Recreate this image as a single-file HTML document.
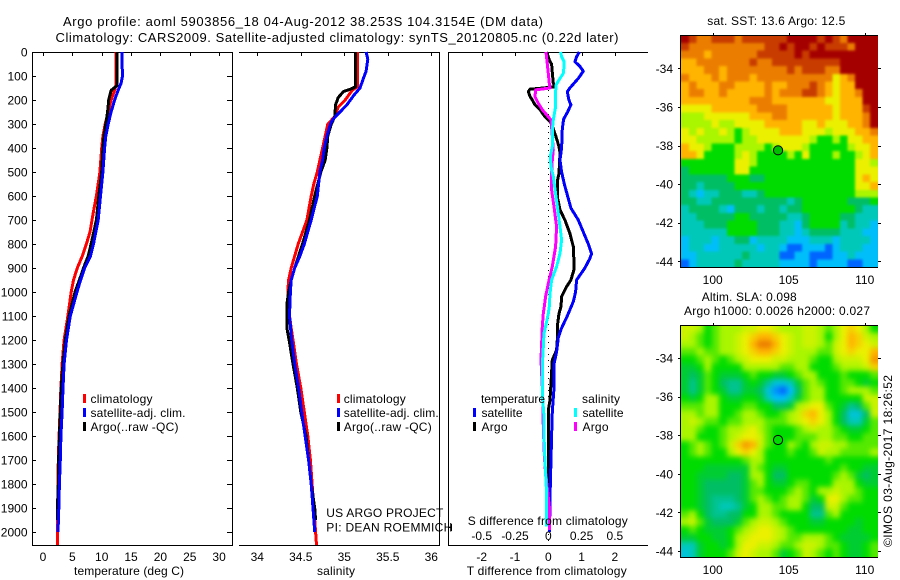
<!DOCTYPE html>
<html>
<head>
<meta charset="utf-8">
<title>Argo profile 5903856_18</title>
<style>
html,body{margin:0;padding:0;background:#fff;width:900px;height:580px;overflow:hidden}
svg{display:block}
text{font-family:"Liberation Sans",sans-serif;font-size:12px;fill:#000}
.crisp{shape-rendering:crispEdges}
</style>
</head>
<body>
<svg id="chart" xmlns="http://www.w3.org/2000/svg" width="900" height="580" viewBox="0 0 900 580">
  <defs>
    <filter id="soft-sst" color-interpolation-filters="sRGB" x="-5%" y="-5%" width="110%" height="110%">
      <feGaussianBlur stdDeviation="1.3"/>
      <feComponentTransfer><feFuncA type="linear" slope="60" intercept="0"/></feComponentTransfer>
    </filter>
    <filter id="soft-sla" color-interpolation-filters="sRGB" x="-5%" y="-5%" width="110%" height="110%">
      <feGaussianBlur stdDeviation="2.6"/>
      <feComponentTransfer><feFuncA type="linear" slope="60" intercept="0"/></feComponentTransfer>
    </filter>
    <clipPath id="clip-sst"><rect x="681" y="35" width="197" height="232"/></clipPath>
    <clipPath id="clip-sla"><rect x="681" y="325" width="197" height="232"/></clipPath>
  </defs>
  <rect x="0" y="0" width="900" height="580" fill="#fff"/>
  <text class="top" x="63" y="26" style="font-size:13px" textLength="480">Argo profile: aoml 5903856_18 04-Aug-2012 38.253S 104.3154E (DM data)</text>
  <text class="top" x="55.5" y="42" style="font-size:13px" textLength="563">Climatology: CARS2009. Satellite-adjusted climatology: synTS_20120805.nc (0.22d later)</text>

  <text class="top" x="74" y="575" textLength="110">temperature (deg C)</text>
  <text class="top" x="317" y="575" textLength="38">salinity</text>
  <text class="top" x="466.7" y="575" textLength="160">T difference from climatology</text>
  <text class="top" x="467.7" y="525" textLength="160">S difference from climatology</text>

  <g class="top" id="legend-temp">
    <rect class="crisp" x="83" y="394" width="3" height="9" fill="#f00"/>
    <text x="90.5" y="403" textLength="62">climatology</text>
    <rect class="crisp" x="83" y="408" width="3" height="9" fill="#00f"/>
    <text x="90.5" y="417" textLength="95">satellite-adj. clim.</text>
    <rect class="crisp" x="83" y="422" width="3" height="9" fill="#000"/>
    <text x="90.5" y="431" textLength="88">Argo(..raw -QC)</text>
  </g>
  <g class="top" id="legend-sal">
    <rect class="crisp" x="337" y="394" width="3" height="9" fill="#f00"/>
    <text x="343.7" y="403" textLength="62">climatology</text>
    <rect class="crisp" x="337" y="408" width="3" height="9" fill="#00f"/>
    <text x="343.7" y="417" textLength="95">satellite-adj. clim.</text>
    <rect class="crisp" x="337" y="422" width="3" height="9" fill="#000"/>
    <text x="343.7" y="431" textLength="88">Argo(..raw -QC)</text>
  </g>
  <g class="top" id="legend-diff">
    <text x="481" y="403" textLength="64">temperature</text>
    <rect class="crisp" x="473" y="408" width="3" height="9" fill="#00f"/>
    <text x="481.5" y="417" textLength="41">satellite</text>
    <rect class="crisp" x="473" y="422" width="3" height="9" fill="#000"/>
    <text x="481.5" y="431" textLength="26">Argo</text>
    <text x="582" y="403" textLength="38">salinity</text>
    <rect class="crisp" x="574" y="408" width="3" height="9" fill="#0ff"/>
    <text x="582.5" y="417" textLength="41">satellite</text>
    <rect class="crisp" x="574" y="422" width="3" height="9" fill="#f0f"/>
    <text x="582.5" y="431" textLength="26">Argo</text>
  </g>

  <text class="top" x="707.3" y="25" textLength="138">sat. SST: 13.6 Argo: 12.5</text>
  <text class="top" x="701.7" y="301" textLength="95">Altim. SLA: 0.098</text>
  <text class="top" x="684" y="315" textLength="186">Argo h1000: 0.0026 h2000: 0.027</text>
  <text class="top" transform="translate(892 547) rotate(-90)" x="0" y="0" textLength="172">©IMOS 03-Aug-2017 18:26:52</text>
</svg>

<script>
// ---------- profile data (depth in m) ----------
var depthTicks = [0,100,200,300,400,500,600,700,800,900,1000,1100,1200,1300,1400,1500,1600,1700,1800,1900,2000];
var tempTicks = [0,5,10,15,20,25,30];
var salTicks = [34,34.5,35,35.5,36];
var salTickLabels = ['34','34.5','35','35.5','36'];
var tDiffTicks = [-2,-1,0,1,2];
var sDiffTicks = [-0.5,-0.25,0,0.25,0.5];
var sDiffTickLabels = ['-0.5','-0.25','0','0.25','0.5'];
var lonTicks = [100,105,110];
var latTicks = [-34,-36,-38,-40,-42,-44];

var tempClimDepth = [0,140,160,200,250,300,350,400,500,600,650,700,750,800,850,900,950,1000,1100,1200,1300,1400,1500,1600,1700,1800,1900,2000,2054];
var tempClimValues = [12.4,12.4,12.2,11.6,11.1,10.6,10.2,10,9.7,9.1,8.7,8.35,8,7.4,6.7,5.85,5.2,4.8,4.25,3.6,3.25,3.05,2.9,2.75,2.6,2.55,2.5,2.5,2.5];
var tempArgoDepth = [0,140,160,200,250,300,350,400,500,600,700,800,850,900,950,1000,1100,1200,1300,1400,1500,1600,1700,1800,1900,1950];
var tempArgoValues = [12.6,12.6,11.6,11.2,11,10.7,10.4,10.2,10,9.5,9.1,8.2,7.7,6.9,6.2,5.45,4.45,3.8,3.4,3.1,2.95,2.8,2.65,2.6,2.45,2.45];
var tempSatDepth = [0,40,100,130,160,200,250,300,350,400,500,600,700,750,800,850,900,950,1000,1100,1200,1300,1400,1500,1600,1700,1800,1900,2000];
var tempSatValues = [13.5,13.45,13.55,13.3,12.8,12.2,11.6,11.1,10.7,10.5,10.2,9.8,9.4,9,8.6,8.1,7.1,6.4,5.8,4.65,4,3.6,3.4,3.25,3.05,2.95,2.8,2.7,2.55];

var salClimDepth = [0,145,160,200,230,270,300,350,400,450,500,550,600,700,800,850,900,950,1000,1050,1100,1150,1200,1300,1400,1500,1600,1700,1800,1900,2000,2054];
var salClimValues = [35.15,35.15,35.09,35.01,34.93,34.89,34.81,34.78,34.75,34.72,34.69,34.65,34.62,34.57,34.47,34.43,34.39,34.36,34.35,34.35,34.37,34.39,34.41,34.45,34.5,34.54,34.58,34.61,34.63,34.65,34.67,34.68];
var salArgoDepth = [0,145,155,165,190,220,270,300,350,400,450,500,600,700,800,900,950,1000,1050,1100,1150,1200,1300,1400,1500,1600,1700,1800,1900,1950];
var salArgoValues = [35.13,35.13,35.07,34.99,34.93,34.9,34.89,34.85,34.81,34.8,34.78,34.73,34.66,34.6,34.52,34.43,34.39,34.36,34.34,34.34,34.34,34.365,34.41,34.46,34.5,34.56,34.59,34.62,34.66,34.67];
var salSatDepth = [0,30,80,110,150,180,220,250,280,300,350,400,450,500,600,700,800,850,900,950,1000,1050,1100,1200,1300,1400,1500,1600,1700,1800,1900,2000];
var salSatValues = [35.25,35.27,35.25,35.22,35.18,35.11,35.03,34.95,34.87,34.84,34.8,34.77,34.75,34.72,34.69,34.62,34.54,34.49,34.43,34.39,34.38,34.375,34.37,34.395,34.43,34.475,34.51,34.55,34.59,34.62,34.64,34.66];

var tDiffSatDepth = [0,20,40,60,80,110,150,165,200,220,250,280,320,400,450,500,550,600,650,700,750,800,840,860,900,950,1000,1040,1100,1150,1190,1250,1300,1400,1500,1600,1700,1800,1900,2000];
var tDiffSatValues = [0.93,0.85,0.8,0.95,1.05,0.9,0.65,0.57,0.62,0.68,0.58,0.46,0.42,0.4,0.35,0.4,0.48,0.58,0.68,0.9,1.05,1.2,1.3,1.25,1.1,0.85,0.82,0.75,0.57,0.4,0.3,0.25,0.17,0.17,0.12,0.1,0.08,0.06,0.05,0.03];
var tDiffArgoDepth = [0,40,50,100,130,145,150,155,165,185,200,220,240,270,290,300,353,394,422,506,533,603,658,700,756,811,867,908,950,978,1019,1061,1089,1144,1200,1242,1283,1380,1450,1492,1589,1672,1755,1866,1978];
var tDiffArgoValues = [-0.05,0.05,0.1,0.13,0.15,0.2,-0.15,-0.55,-0.6,-0.55,-0.48,-0.4,-0.25,-0.1,0.05,0.1,0.23,0.32,0.35,0.32,0.28,0.27,0.35,0.5,0.65,0.75,0.77,0.77,0.68,0.55,0.4,0.38,0.32,0.27,0.27,0.25,0.12,0.08,0.05,0,0,0,0.01,0.03,0.03];
var sDiffSatDepth = [0,19,40,61,89,110,138,172,228,283,325,394,436,478,519,603,672,728,783,839,894,950,1006,1061,1089,1144,1172,1311,1422,1519,1644,1756,1839,1978];
var sDiffSatValues = [0.0925,0.1,0.1175,0.1175,0.1125,0.0875,0.0575,0.055,0.055,0.0375,0.03,0.03,0.015,0.02,0.0375,0.0575,0.075,0.0875,0.1,0.0875,0.0625,0.025,0.0125,0.0075,0,-0.02,-0.0325,-0.045,-0.045,-0.0325,-0.03,-0.02,-0.0125,-0.0125];
var sDiffArgoDepth = [0,61,131,150,158,186,214,242,283,311,408,450,506,575,644,728,811,894,964,1019,1061,1089,1144,1283,1422,1561,1672,1728,1894,1992];
var sDiffArgoValues = [-0.0175,-0.005,0.0075,0.0125,-0.095,-0.1,-0.075,-0.0425,0.02,0.025,0.0375,0.03,0.025,0.025,0.0425,0.0625,0.055,0.03,0,-0.02,-0.03,-0.0375,-0.045,-0.055,-0.0425,-0.0375,-0.03,-0.025,0.0075,0.0075];

// ---------- map data (colour-scale index: 0 dark blue ... 11 dark red) ----------
var sstRows = [
[11,10,9,9,10,10,10,9,10,10,10,10,10,10,11,11,11,11,10,11,10,9,11,11,11,11],
[10,9,9,9,9,9,9,9,9,9,9,10,10,11,10,11,11,10,11,10,10,10,9,11,11,11],
[9,9,9,8,9,9,9,9,9,9,10,10,10,10,10,11,10,11,11,11,11,11,11,11,11,11],
[8,8,9,9,9,9,9,9,9,10,9,9,10,10,10,10,10,10,10,10,10,11,11,11,11,11],
[8,8,8,9,9,8,9,9,9,9,9,9,9,9,10,9,10,10,10,9,9,11,11,11,11,11],
[9,8,8,8,9,8,9,9,9,8,9,9,9,9,9,9,9,9,9,9,7,8,9,11,11,11],
[8,9,8,8,8,9,9,8,8,8,8,9,8,8,9,9,9,10,9,8,7,8,8,11,11,11],
[8,9,9,8,8,9,8,8,8,8,8,9,8,9,9,9,10,10,9,8,7,8,8,9,11,11],
[8,8,8,8,8,8,8,8,8,9,9,9,8,8,8,8,8,8,8,7,7,8,8,8,11,11],
[7,7,7,7,8,8,8,8,8,8,9,9,9,9,8,8,8,8,8,8,7,8,8,8,10,11],
[6,6,6,7,7,7,7,7,7,8,8,8,9,9,8,8,8,8,8,8,7,8,8,8,9,11],
[6,6,6,6,7,6,6,7,7,7,7,8,8,8,8,8,7,7,8,7,7,7,8,8,9,11],
[7,6,7,6,6,7,6,5,6,7,7,7,7,8,8,8,7,7,7,6,7,7,7,8,8,9],
[7,7,6,6,6,6,6,5,6,6,7,7,7,7,7,7,7,6,5,5,6,5,7,7,8,8],
[8,7,7,6,5,5,5,6,6,6,6,5,6,7,7,7,6,5,5,5,5,5,6,7,7,8],
[8,8,7,5,5,5,5,6,7,6,5,5,5,5,6,5,7,5,5,5,6,5,5,6,7,8],
[5,5,5,5,5,5,5,7,7,6,5,5,5,5,5,5,5,5,5,5,5,5,5,7,7,6],
[4,5,5,5,5,5,5,7,7,5,5,5,5,5,5,5,5,5,5,5,5,5,5,7,7,7],
[4,4,4,4,4,4,5,5,5,4,4,5,5,5,5,5,5,5,5,5,5,5,5,7,8,7],
[4,4,3,4,4,4,4,5,5,5,5,5,5,5,5,5,5,5,5,5,5,5,5,7,7,8],
[4,3,2,3,3,4,4,4,3,3,4,5,5,5,5,5,5,5,5,5,5,5,5,6,6,6],
[4,4,3,3,4,4,4,4,4,4,4,4,4,4,3,4,5,5,5,5,5,5,4,4,4,5],
[3,4,4,4,4,3,2,4,4,4,3,4,4,3,4,4,5,5,5,5,5,5,5,4,3,3],
[3,3,4,4,4,4,4,5,5,4,4,4,4,4,3,3,4,5,5,5,5,4,4,3,3,3],
[3,3,3,4,4,4,5,5,5,5,4,4,4,3,3,2,4,5,5,5,5,3,4,3,3,2],
[3,3,3,3,3,3,5,5,5,5,4,4,4,3,3,2,3,4,4,4,4,3,3,3,2,2],
[2,3,3,3,2,3,3,4,4,2,3,3,3,3,2,2,2,3,3,3,2,3,3,3,3,2],
[2,3,3,2,2,3,3,3,3,3,2,3,3,2,1,1,2,2,2,1,2,3,3,3,2,2],
[2,2,3,3,3,3,3,3,4,3,3,3,3,1,1,2,2,1,1,1,2,2,3,2,2,2],
[1,2,3,3,3,3,3,4,3,3,3,3,3,2,2,2,2,1,2,2,2,2,1,1,2,2]
];
var slaRows = [
[6.5,6.5,6,5,5.5,6,6,6,6.5,6.5,7,7,6.5,6,6,6,6.5,6.5,6,5.5,6,7,7.5,7,6,5],
[6.5,6,5.5,5,5.5,6,6,6.5,7,7.5,8,8,7.5,7,6.5,6,6.5,6.5,6,5,6,7,8,7.5,6.5,6],
[6,6,5.5,5,5.5,6,6,6.5,7,8,9,9,8,7,6.5,6,6.5,6.5,6,5.5,6.5,7,8,7.5,7,6.5],
[5.5,5.5,6,5.5,5.5,6,6,6.5,7,7.5,8,8,7.5,7,6.5,6,6,6,5.5,5.5,6.5,7,7.5,7,7,8],
[5,5,5.5,6,5.5,5,5.5,6,6.5,7,7,7,6.5,6.5,6,6,6,5.5,5,5,6,6.5,6.5,6.5,7,8.5],
[4.5,4.5,5,6,5,5,5,5,6,6,6,6,6,5.5,5.5,6,6,5,5,5,5.5,6,6,6,6.5,7.5],
[4.5,4,4.5,5.5,5,4.5,4.5,4.5,5,5.5,5,5,4.5,4.5,5,5.5,6,6,5,5,5,5.5,5,5,5,5.5],
[4.5,3.5,4.5,5.5,5,4,3.5,3.5,4.5,5,4.5,3.5,2.5,2.5,3,4.5,5.5,6,5.5,5,5,5.5,5.5,5,4.5,5],
[4.5,3.5,4.5,5.5,5,4.5,3.5,3.5,4.5,4.5,4,2.5,1.5,1,2,4,5.5,6,6,5,5,5.5,6,6,6,5.5],
[5,4.5,5,6,6,5,4.5,4.5,5,5,4.5,3,2,2,3,4.5,5.5,6,6,5,5,5,5,5,6.5,6.5],
[5.5,5.5,5.5,6,6,5,5,5,5.5,5.5,5,5,4,4,4.5,6,6.5,7,7,5.5,5,4.5,3.5,4,5.5,6.5],
[6,6,5.5,6,6,5,5,5.5,6,6,5.5,5,5,5.5,6,6.5,7.5,8,7,6,5,4,2.5,2.5,4,6.5],
[6,6.5,6,5.5,5.5,5,5.5,5.5,6,6,6,5.5,5.5,5.5,6,6.5,7,7.5,7,6,5,4,3,3,4.5,5.5],
[6,6,5.5,5,5,5.5,6,6,6.5,7,6,5.5,5,5,5,5.5,6,6.5,6,6,5.5,5,4.5,4.5,5,5.5],
[6,6,5,5,5,5.5,6,6.5,7,7,6.5,5.5,5,5,5,5.5,5.5,5.5,6,6,5.5,5.5,5,5,5.5,5.5],
[5,5.5,6,5.5,5,5.5,6.5,7.5,8.5,8,6.5,5.5,5,5,6,5.5,5,6,6.5,6.5,6,6,5.5,5.5,5.5,5.5],
[5,5.5,6,5.5,5,5,6,7,7.5,7,6,5,5,5,5.5,5,5,5.5,6.5,6,6,5.5,5.5,5.5,5.5,6],
[5,5,5,5,5,5,5,5,5.5,6,6,5,5,5,5,5,5,5,5,5.5,5,5,5,5,5,5],
[5,5,5,4.5,4.5,4.5,4.5,4.5,4.5,6,5.5,5,4.5,4.5,5,5,5,5,5,5,5,5.5,5,5,4.5,4.5],
[5,5,4.5,4.5,4.5,4.5,4,4,4.5,6,6,5,4,4,5,5,5,5,5,5,5.5,6,5.5,4.5,4,4.5],
[5,5,4.5,4,4,4,4,4,4.5,5.5,6,5,4.5,4.5,5,5.5,5.5,5,5,5,6,6,6,5,4.5,4.5],
[5,5,4.5,4,4,4,4,4,4.5,5.5,5.5,5,5,5,5.5,6,5.5,5,6,6,6.5,6,6,5.5,5,5],
[5,5,4.5,4,3.5,3.5,3.5,4,4.5,5.5,6,5.5,5,5.5,6,6,5.5,4.5,5,7,7,6,5.5,5.5,5,5],
[5,5,4.5,4,3.5,3,3,3.5,4.5,5,6,6,5.5,5.5,6,6,5,4,4,6.5,6.5,5.5,5,5,5,5],
[5.5,6,5,4,3.5,3.5,4,4,5,5,6,6,5.5,5,5,5,5,3.5,3.5,5.5,6,5,5,5,5,5],
[6,6.5,5.5,4.5,4,4,4,4.5,5.5,6,6.5,6.5,6,5.5,5,5,5,4.5,4.5,5,5,5,5,4.5,5,5],
[5,5.5,5,4.5,4.5,4.5,5,5.5,6,6.5,7,7,6.5,6,5.5,5,5,5,5,5,5,5,4.5,4.5,5,5],
[4.5,4.5,5,5,4.5,4.5,5,6,6.5,7,7,7,6.5,6,5.5,5.5,6,6,6,5.5,5,4.5,4.5,4.5,4.5,5],
[3,3,4.5,5,5,4.5,5,6,7,7,6.5,6.5,6,5.5,5.5,6,6.5,6.5,6,5.5,5.5,5,4.5,4.5,5,5.5],
[2.5,3,4.5,5,5,5,5.5,6.5,7,6.5,6,6,5.5,4.5,5,5.5,6.5,6,5.5,5,5.5,5,4.5,4.5,5,5.5]
];
var argoLon = [104.3];
var argoLat = [-38.25];

// ---------- geometry and scales ----------
var NS = 'http://www.w3.org/2000/svg';
var svg = document.getElementById('chart');
function yDepth(d){ return 52 + 0.24 * d; }
function xTemp(t){ return 43 + 5.87 * t; }
function xSal(s){ return 257.3 + 87 * (s - 34); }
function xTDiff(t){ return 548.3 + 33.3 * t; }
function xSDiff(s){ return 548.3 + 133.2 * s; }
function xLon(lon){ return 712.7 + 15.2 * (lon - 100); }
function ySstLat(lat){ return 68.3 + 19.3 * (-34 - lat); }
function ySlaLat(lat){ return 358 + 19.3 * (-34 - lat); }

var mapLonStart = 97.95, mapLatTop = -32.28, cellLon = 0.4959, cellLat = 0.4007;
var colorStops = [
 [0,0,190],[0,100,255],[0,190,250],[0,200,185],[0,190,100],[0,220,0],
 [170,245,0],[235,240,0],[255,180,0],[235,125,0],[200,60,0],[165,0,0]
];
function scaleColor(v){
  var i = Math.max(0, Math.min(10, Math.floor(v)));
  var f = Math.max(0, Math.min(1, v - i));
  var a = colorStops[i], b = colorStops[i + 1];
  return 'rgb(' + Math.round(a[0] + (b[0] - a[0]) * f) + ',' + Math.round(a[1] + (b[1] - a[1]) * f) + ',' + Math.round(a[2] + (b[2] - a[2]) * f) + ')';
}

function axisLine(x1, y1, x2, y2, name){
  var l = document.createElementNS(NS, 'line');
  l.setAttribute('x1', x1);
  l.setAttribute('y1', y1);
  l.setAttribute('x2', x2);
  l.setAttribute('y2', y2);
  l.setAttribute('stroke', '#000');
  l.setAttribute('stroke-width', 1);
  l.setAttribute('class', 'crisp');
  
  
  svg.appendChild(l);
  return l;
}
function label(x, y, str, anchor, name){
  var t = document.createElementNS(NS, 'text');
  t.setAttribute('x', x);
  t.setAttribute('y', y);
  t.setAttribute('text-anchor', anchor);
  t.setAttribute('class', 'top');
  t.textContent = str;
  
  
  svg.appendChild(t);
  return t;
}
function profile(depths, values, xFn, color, name){
  var pts = [];
  for (var i = 0; i < depths.length; i++) {
    pts.push(xFn(values[i]).toFixed(1) + ',' + yDepth(depths[i]).toFixed(1));
  }
  var p = document.createElementNS(NS, 'polyline');
  p.setAttribute('points', pts.join(' '));
  p.setAttribute('fill', 'none');
  p.setAttribute('stroke', color);
  p.setAttribute('stroke-width', 3);
  p.setAttribute('stroke-linejoin', 'round');
  p.setAttribute('shape-rendering', 'crispEdges');
  
  
  svg.appendChild(p);
}
function heatmap(rows, yFn, name, filterId, clipId){
  var clip = document.createElementNS(NS, 'g');
  clip.setAttribute('clip-path', 'url(#' + clipId + ')');
  
  
  svg.appendChild(clip);
  var g = document.createElementNS(NS, 'g');
  g.setAttribute('filter', 'url(#' + filterId + ')');
  
  
  clip.appendChild(g);
  for (var r = 0; r < rows.length; r++) {
    for (var c = 0; c < rows[r].length; c++) {
      var x0 = xLon(mapLonStart + c * cellLon), x1 = xLon(mapLonStart + (c + 1) * cellLon);
      var y0 = yFn(mapLatTop - r * cellLat), y1 = yFn(mapLatTop - (r + 1) * cellLat);
      var cell = document.createElementNS(NS, 'rect');
      cell.setAttribute('x', x0.toFixed(2));
      cell.setAttribute('y', y0.toFixed(2));
      cell.setAttribute('width', (x1 - x0 + 0.4).toFixed(2));
      cell.setAttribute('height', (y1 - y0 + 0.4).toFixed(2));
      cell.setAttribute('fill', scaleColor(rows[r][c]));
      cell.setAttribute('class', 'crisp');
      
      
      g.appendChild(cell);
    }
  }
}
function mapFrame(top, bottom, yFn, prefix){
  axisLine(680.5, top, 680.5, bottom, prefix + '-frame-left');
  axisLine(680, top + 0.5, 878, top + 0.5, prefix + '-frame-top');
  axisLine(680, bottom + 0.5, 878, bottom + 0.5, prefix + '-frame-bottom');
  lonTicks.forEach(function(lon){
    var x = Math.round(xLon(lon)) + 0.5;
    axisLine(x, top - 2, x, top, prefix + '-x-tick');
    label(xLon(lon), bottom + 17, String(lon), 'middle', prefix + '-x-tick-label');
  });
  latTicks.forEach(function(lat){
    var y = Math.round(yFn(lat)) + 0.5;
    axisLine(678, y, 680, y, prefix + '-y-tick-left');
    axisLine(878, y, 881, y, prefix + '-y-tick-right');
    label(673, yFn(lat) + 4.5, String(lat), 'end', prefix + '-y-tick-label');
  });
  var m = document.createElementNS(NS, 'circle');
  m.setAttribute('cx', xLon(argoLon[0]));
  m.setAttribute('cy', yFn(argoLat[0]));
  m.setAttribute('r', 4.6);
  m.setAttribute('fill', prefix === 'sst-map' ? '#00be00' : '#00dc00');
  m.setAttribute('stroke', '#000');
  m.setAttribute('stroke-width', 1);
  
  
  svg.appendChild(m);
}

// ---------- panel 1: temperature ----------
axisLine(32.5, 52, 32.5, 545, 'temperature-frame-left');
axisLine(232.5, 52, 232.5, 545, 'temperature-frame-right');
axisLine(32, 52.5, 233, 52.5, 'temperature-frame-top');
axisLine(32, 545.5, 233, 545.5, 'temperature-frame-bottom');
depthTicks.forEach(function(d){
  var y = Math.round(yDepth(d)) + 0.5;
  axisLine(32, y, 36, y, 'depth-tick-left');
  axisLine(227, y, 232, y, 'depth-tick-right');
  label(27.5, yDepth(d) + 4.5, String(d), 'end', 'depth-tick-label');
});
tempTicks.forEach(function(t){
  var x = Math.round(xTemp(t)) + 0.5;
  axisLine(x, 52, x, 56, 'temperature-tick');
  label(xTemp(t), 561, String(t), 'middle', 'temperature-tick-label');
});
profile(tempClimDepth, tempClimValues, xTemp, '#f00', 'temperature-climatology-line');
profile(tempArgoDepth, tempArgoValues, xTemp, '#000', 'temperature-argo-line');
profile(tempSatDepth, tempSatValues, xTemp, '#00f', 'temperature-satellite-line');

// ---------- panel 2: salinity ----------
axisLine(439.5, 52, 439.5, 545, 'salinity-frame-right');
axisLine(239, 52.5, 440, 52.5, 'salinity-frame-top');
axisLine(239, 545.5, 440, 545.5, 'salinity-frame-bottom');
salTicks.forEach(function(s, i){
  var x = Math.round(xSal(s)) + 0.5;
  axisLine(x, 52, x, 56, 'salinity-tick');
  label(xSal(s), 561, salTickLabels[i], 'middle', 'salinity-tick-label');
});
profile(salClimDepth, salClimValues, xSal, '#f00', 'salinity-climatology-line');
profile(salArgoDepth, salArgoValues, xSal, '#000', 'salinity-argo-line');
profile(salSatDepth, salSatValues, xSal, '#00f', 'salinity-satellite-line');

// ---------- panel 3: differences ----------
axisLine(448.5, 52, 448.5, 545, 'difference-frame-left');
axisLine(448, 52.5, 648, 52.5, 'difference-frame-top');
axisLine(448, 545.5, 648, 545.5, 'difference-frame-bottom');
axisLine(449, 527.5, 452, 527.5, 'difference-end-tick');
axisLine(451.5, 524, 451.5, 531, 'difference-end-cap');
tDiffTicks.forEach(function(t){
  var x = Math.round(xTDiff(t)) + 0.5;
  axisLine(x, 52, x, 56, 'difference-tick');
  label(xTDiff(t), 561, String(t), 'middle', 't-difference-tick-label');
});
sDiffTicks.forEach(function(s, i){
  label(xSDiff(s), 540, sDiffTickLabels[i], 'middle', 's-difference-tick-label');
});
var zero = axisLine(548.5, 90, 548.5, 545, 'zero-difference-line');
zero.setAttribute('stroke-dasharray', '1 5');
profile(tDiffArgoDepth, tDiffArgoValues, xTDiff, '#000', 't-difference-argo-line');
profile(tDiffSatDepth, tDiffSatValues, xTDiff, '#00f', 't-difference-satellite-line');
profile(sDiffArgoDepth, sDiffArgoValues, xSDiff, '#f0f', 's-difference-argo-line');
profile(sDiffSatDepth, sDiffSatValues, xSDiff, '#0ff', 's-difference-satellite-line');

var pa = label(326.3, 517, 'US ARGO PROJECT', 'start', 'project-label');
pa.setAttribute('textLength', 117);
var pi = label(326.3, 531.5, 'PI: DEAN ROEMMICH', 'start', 'pi-label');
pi.setAttribute('textLength', 126);

// ---------- maps ----------
heatmap(sstRows, ySstLat, 'sst-heatmap', 'soft-sst', 'clip-sst');
mapFrame(35, 267, ySstLat, 'sst-map');
heatmap(slaRows, ySlaLat, 'sla-heatmap', 'soft-sla', 'clip-sla');
mapFrame(325, 557, ySlaLat, 'sla-map');

// text and legends sit above the plotted lines
Array.prototype.slice.call(svg.querySelectorAll('.top')).forEach(function(node){
  svg.appendChild(node);
});
</script>
</body>
</html>
